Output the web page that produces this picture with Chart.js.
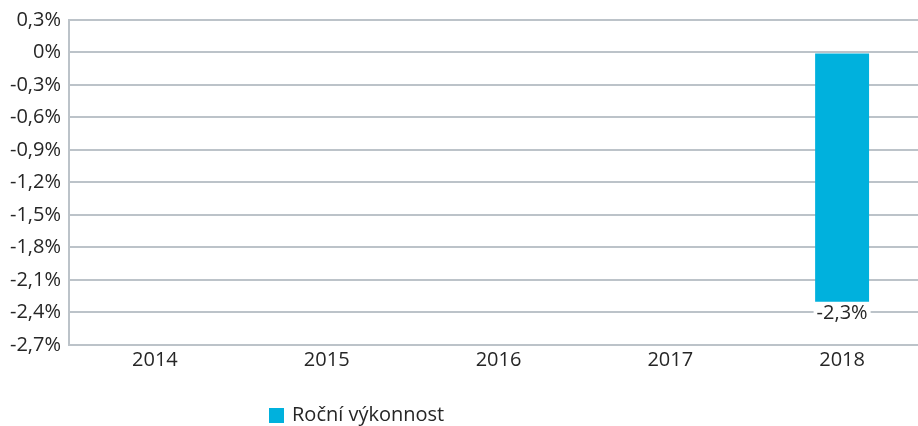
<!DOCTYPE html>
<html>
<head>
<meta charset="utf-8">
<script src="https://cdn.jsdelivr.net/npm/chart.js@4/dist/chart.umd.min.js"></script>
<style>
  html, body { margin: 0; padding: 0; background: #fff; overflow: hidden; }
  #wrap { width: 918px; height: 426px; overflow: hidden; }
</style>
</head>
<body>
<div id="wrap"><canvas id="graf" width="928" height="426"></canvas></div>
<script>
// roky a roční výkonnost v %
const roky = ["2014", "2015", "2016", "2017", "2018"];
const vykonnost = [null, null, null, null, -2.3];
const osaY = [-2.7, -2.4, -2.1, -1.8, -1.5, -1.2, -0.9, -0.6, -0.3, 0, 0.3];
const nazevRady = "Roční výkonnost";

const modra = "#00b1dd";
const pismo = "'Open Sans', sans-serif";
const barvaTextu = "#262626";
const mrizka = "#bcc3c9";

function procenta(v) {
    if (Math.abs(v) < 1e-9) return "0%";
    return v.toFixed(1).replace(".", ",") + "%";
}

// popisek hodnoty pod sloupcem + legenda dole
const popisky = {
    id: "popisky",
    afterDatasetsDraw(chart) {
        const ctx = chart.ctx;
        ctx.save();
        ctx.font = "20px " + pismo;
        ctx.textAlign = "center";
        ctx.textBaseline = "top";
        const meta = chart.getDatasetMeta(0);
        meta.data.forEach((bar, i) => {
            const v = vykonnost[i];
            if (v === null) return;
            const txt = procenta(v);
            const w = ctx.measureText(txt).width;
            ctx.fillStyle = "#fff";
            ctx.fillRect(bar.x - w / 2 - 3, bar.y + 4, w + 6, 20);
            ctx.fillStyle = barvaTextu;
            ctx.fillText(txt, bar.x, bar.y + 2);
        });

        // legenda
        ctx.fillStyle = modra;
        ctx.fillRect(269, 408, 15, 15);
        ctx.fillStyle = barvaTextu;
        ctx.textAlign = "left";
        ctx.textBaseline = "alphabetic";
        ctx.fillText(nazevRady, 292, 421);
        ctx.restore();
    }
};

new Chart(document.getElementById("graf"), {
    type: "bar",
    data: {
        labels: roky,
        datasets: [{
            label: nazevRady,
            data: vykonnost,
            backgroundColor: modra,
            barPercentage: 0.314,
            categoryPercentage: 1.0
        }]
    },
    options: {
        responsive: false,
        animation: false,
        layout: { padding: { top: 13, right: 0, bottom: 51, left: 0 } },
        plugins: {
            legend: { display: false },
            tooltip: { enabled: false }
        },
        scales: {
            x: {
                grid: { display: false, drawTicks: false },
                border: { display: false },
                ticks: {
                    color: barvaTextu,
                    font: { family: pismo, size: 20 },
                    padding: 3,
                    maxRotation: 0
                }
            },
            y: {
                min: -2.7,
                max: 0.3,
                afterBuildTicks(scale) {
                    scale.ticks = osaY.map(v => ({ value: v }));
                },
                afterFit(scale) { scale.width = 69; },
                grid: { color: mrizka, lineWidth: 2, drawTicks: false },
                border: { display: true, color: mrizka, width: 2 },
                ticks: {
                    color: barvaTextu,
                    font: { family: pismo, size: 20 },
                    padding: 8,
                    callback: v => procenta(v)
                }
            }
        }
    },
    plugins: [popisky]
});
</script>
</body>
</html>
